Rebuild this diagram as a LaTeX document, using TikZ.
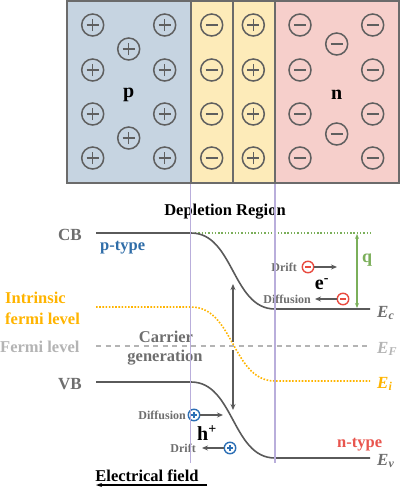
\documentclass[tikz,border=0pt]{standalone}
\usepackage{fontspec}
\setmainfont{Liberation Serif}
\usetikzlibrary{arrows.meta}
\definecolor{pfill}{HTML}{C6D4E1}
\definecolor{yfill}{HTML}{FDEBB9}
\definecolor{nfill}{HTML}{F6CFCB}
\definecolor{boxc}{HTML}{6B6B6B}
\definecolor{chg}{HTML}{5F5F5F}
\definecolor{txtg}{HTML}{6E6E6E}
\definecolor{bandc}{HTML}{5A5A5A}
\definecolor{lightg}{HTML}{B4B4B4}
\definecolor{orng}{HTML}{FFB400}
\definecolor{grn}{HTML}{7BAF5A}
\definecolor{lav}{HTML}{B9AEDB}
\definecolor{pblue}{HTML}{2F6DA8}
\definecolor{nred}{HTML}{E8554E}
\definecolor{ered}{HTML}{E84A3F}
\definecolor{hblue}{HTML}{2C6FB5}
\begin{document}
\begin{tikzpicture}[x=1pt,y=-1pt,
  charge/.style={circle, draw=chg, line width=1.5pt, minimum size=22pt, inner sep=0pt},
  plus/.style={charge, path picture={\draw[chg,line width=1.4pt]
     (path picture bounding box.center) ++(-6pt,0pt) -- ++(12pt,0pt)
     (path picture bounding box.center) ++(0pt,-6pt) -- ++(0pt,12pt);}},
  minus/.style={charge, path picture={\draw[chg,line width=1.4pt]
     (path picture bounding box.center) ++(-6pt,0pt) -- ++(12pt,0pt);}},
  sminus/.style={circle, draw=ered, fill=white, line width=1.4pt, minimum size=11.5pt, inner sep=0pt,
     path picture={\draw[ered,line width=1.4pt]
     (path picture bounding box.center) ++(-3pt,0pt) -- ++(6pt,0pt);}},
  splus/.style={circle, draw=hblue, fill=white, line width=1.4pt, minimum size=11.5pt, inner sep=0pt,
     path picture={\draw[hblue,line width=1.3pt]
     (path picture bounding box.center) ++(-3pt,0pt) -- ++(6pt,0pt)
     (path picture bounding box.center) ++(0pt,-3pt) -- ++(0pt,6pt);}},
  lbl/.style={font=\fontsize{16.5}{20}\selectfont\bfseries, inner sep=0pt},
  small/.style={font=\fontsize{12}{14}\selectfont\bfseries, text=txtg, inner sep=0pt},
  elab/.style={font=\fontsize{17}{20}\selectfont\itshape\bfseries, inner sep=0pt, anchor=base west},
  band/.style={draw=bandc, line width=1.6pt},
  arr/.style={draw=bandc, line width=1.4pt, -{Stealth[length=6pt,width=5pt]}},
  garr/.style={draw=grn, line width=1.2pt, {Stealth[length=5pt,width=4pt]}-{Stealth[length=5pt,width=4pt]}}
]
\useasboundingbox (0,0) rectangle (400,488);
% top block
\fill[pfill] (67,1) rectangle (190.7,183);
\fill[yfill] (190.7,1) rectangle (275,183);
\fill[nfill] (275,1) rectangle (399,183);
\draw[boxc, line width=1.8pt] (67,1) rectangle (399,183);
\draw[boxc, line width=1.8pt] (190.7,1) -- (190.7,183) (233,1) -- (233,183) (275,1) -- (275,183);
\foreach \y [count=\i] in {25,70,114,158} {
  \node[plus] (pa\i) at (92.7,\y) {};
  \node[plus] (pb\i) at (164.7,\y) {};
  \node[minus] (ya\i) at (211.7,\y) {};
  \node[plus] (yb\i) at (253.3,\y) {};
  \node[minus] (na\i) at (300,\y) {};
  \node[minus] (nb\i) at (372.7,\y) {};
}
\node[plus] (pc1) at (128.7,49) {};
\node[plus] (pc2) at (128.7,138) {};
\node[minus] (nc1) at (336.7,44) {};
\node[minus] (nc2) at (336.7,134) {};
\node[lbl, font=\fontsize{20}{22}\selectfont\bfseries] (plab) at (128.7,95) {p};
\node[lbl, font=\fontsize{20}{22}\selectfont\bfseries] (nlab) at (336.7,95) {n};

% labels
\node[lbl, anchor=base] (dep) at (225,215.5) {Depletion Region};
\node[lbl, text=txtg, anchor=base east, font=\fontsize{17}{20}\selectfont\bfseries] (cb) at (82,240) {CB};
\node[lbl, text=pblue, anchor=base west] (ptype) at (100,250) {p-type};
\node[lbl, text=orng, anchor=base west] (intr1) at (5,303) {Intrinsic};
\node[lbl, text=orng, anchor=base west] (intr2) at (5,324) {fermi level};
\node[lbl, text=lightg, anchor=base west] (ferm) at (0,352) {Fermi level};
\node[lbl, text=txtg, anchor=base east, font=\fontsize{17}{20}\selectfont\bfseries] (vb) at (82,389) {VB};
\node[lbl, text=txtg, anchor=base] (car1) at (166,342) {Carrier};
\node[lbl, text=txtg, anchor=base] (car2) at (165,361) {generation};
\node[lbl, text=nred, anchor=base west] (ntype) at (337,447) {n-type};
\node[lbl, anchor=base] (ef) at (147,481) {Electrical field};

% bands
\draw[orng, line width=1.6pt, dash pattern=on 1.6pt off 1.6pt]
  (96,307) -- (191,307) .. controls (234,307) and (232,381) .. (275,381) -- (370,381);
\draw[lightg, line width=1.5pt, dash pattern=on 5pt off 4.5pt] (96,346) -- (370,346);
\draw[grn, line width=1.4pt, dash pattern=on 1.4pt off 1.9pt] (195,233) -- (370,233);
\draw[band] (96,233) -- (191,233) .. controls (234,233) and (232,309) .. (275,309) -- (370,309);
\draw[band] (96,382) -- (191,382) .. controls (234,382) and (232,458) .. (275,458) -- (370,458);

\node[elab, text=txtg] (ec) at (377,317) {E\textsubscript{\fontsize{12}{12}\selectfont c}};
\node[elab, text=lightg] (efl) at (377,353) {E\textsubscript{\fontsize{12}{12}\selectfont F}};
\node[elab, text=orng] (eil) at (377,388) {E\textsubscript{\fontsize{12}{12}\selectfont i}};
\node[elab, text=txtg] (evl) at (377,465) {E\textsubscript{\fontsize{12}{12}\selectfont v}};

% carrier generation arrows
\coordinate (gu0) at (233,342);
\coordinate (gu1) at (233,284);
\coordinate (gd0) at (233,350);
\coordinate (gd1) at (233,410);
\draw[arr] (gu0) -- (gu1);
\draw[arr] (gd0) -- (gd1);

% q
\coordinate (q0) at (357,234);
\coordinate (q1) at (357,308);
\draw[garr] (q0) -- (q1);
\node[lbl, text=grn, font=\fontsize{18}{20}\selectfont\bfseries, anchor=base west] (qlab) at (362,262) {q};

% electrons
\node[sminus] (e1) at (308,267) {};
\coordinate (e1t) at (337,267);
\draw[arr] (e1) -- (e1t);
\node[small, anchor=base east] (edr) at (297,271.5) {Drift};
\node[sminus] (e2) at (343,299) {};
\coordinate (e2t) at (315,299);
\draw[arr] (e2) -- (e2t);
\node[small, anchor=base east] (edf) at (311,303.5) {Diffusion};
\node[lbl, font=\fontsize{20}{22}\selectfont\bfseries] (elab) at (322,284) {e\textsuperscript{-}};

% holes
\node[splus] (h1) at (194,415) {};
\coordinate (h1t) at (223,415);
\draw[arr] (h1) -- (h1t);
\node[small, anchor=base east] (hdf) at (186,419.5) {Diffusion};
\node[splus] (h2) at (230,448) {};
\coordinate (h2t) at (202,448);
\draw[arr] (h2) -- (h2t);
\node[small, anchor=base east] (hdr) at (196,452.5) {Drift};
\node[lbl, font=\fontsize{20}{22}\selectfont\bfseries] (hlab) at (207,433) {h\textsuperscript{+}};

% electrical field arrow
\coordinate (fa0) at (207,485);
\coordinate (fa1) at (96,485);
\draw[black, line width=1.1pt, -{Stealth[length=6pt,width=4pt]}] (fa0) -- (fa1);

% depletion boundaries
\draw[lav, line width=1.3pt] (190.7,184) -- (190.7,463) (275,184) -- (275,463);
\end{tikzpicture}
\end{document}
